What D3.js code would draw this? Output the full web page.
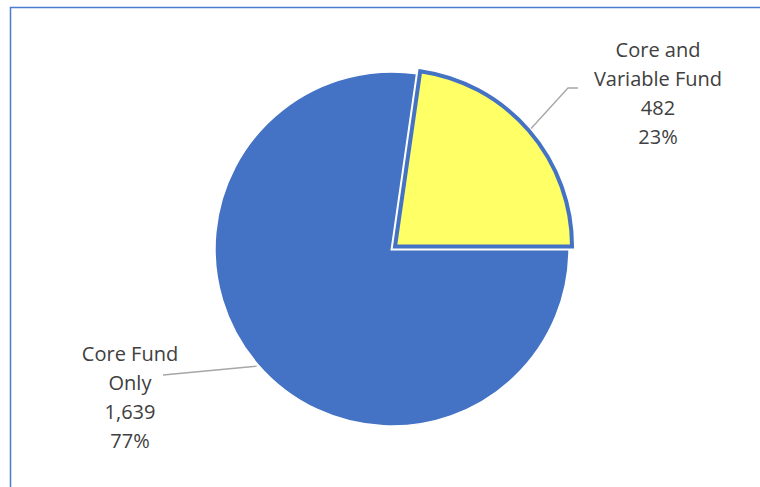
<!DOCTYPE html>
<html>
<head>
<meta charset="utf-8">
<script src="https://cdn.jsdelivr.net/npm/d3@7"></script>
<style>
  html, body { margin: 0; padding: 0; background: #fff; }
  svg { display: block; }
  text { font-family: "Open Sans", "Noto Sans", sans-serif; fill: #404040; }
</style>
</head>
<body>
<svg id="chart" width="760" height="487"></svg>
<script>
// ---- data ----
const categories = ["Core Fund Only", "Core and Variable Fund"];
const labelLines = [["Core Fund", "Only"], ["Core and", "Variable Fund"]];
const values = [1639, 482];
const colors = ["#4472C4", "#FFFF66"];

const svg = d3.select("#chart");
const W = 760, H = 487;

// chart border (left + top visible)
svg.append("path")
  .attr("d", "M10.5,487 L10.5,7.5 L760,7.5")
  .attr("fill", "none")
  .attr("stroke", "#4A7BD0")
  .attr("stroke-width", 1.5);

const cx = 392, cy = 249, R = 177;
const total = d3.sum(values);
const pie = d3.pie().sort(null).startAngle(Math.PI / 2).endAngle(Math.PI / 2 + 2 * Math.PI);
const arcs = pie(values);
const arc = d3.arc().innerRadius(0).outerRadius(R);
const explode = [0, 4];

const g = svg.append("g").attr("transform", `translate(${cx},${cy})`);

arcs.forEach((a, i) => {
  const mid = (a.startAngle + a.endAngle) / 2;
  const dx = explode[i] * Math.sin(mid), dy = -explode[i] * Math.cos(mid);
  const sg = g.append("g").attr("transform", `translate(${dx},${dy})`);
  if (i === 1) {
    sg.append("path").attr("d", arc(a)).attr("fill", "#fff")
      .attr("stroke", "#fff").attr("stroke-width", 8).attr("stroke-linejoin", "miter");
    sg.append("path").attr("d", arc(a)).attr("fill", colors[i])
      .attr("stroke", "#4472C4").attr("stroke-width", 4).attr("stroke-linejoin", "miter");
  } else {
    sg.append("path").attr("d", arc(a)).attr("fill", colors[i])
      .attr("stroke", "#fff").attr("stroke-width", 1.5);
  }
});

// labels
const fmtN = d3.format(",");
const fmtP = d3.format(".0%");
const labelPos = [
  { x: 130, y: 361, start: 179, elbow: [163, 375], end: [163, 375] },
  { x: 658, y: 57, start: 180, elbow: [568, 88], end: [578, 88] }
];
const lineH = 29;

arcs.forEach((a, i) => {
  const mid = (a.startAngle + a.endAngle) / 2;
  const p = labelPos[i];
  const r0 = p.start + explode[i];
  const sx = cx + r0 * Math.sin(mid), sy = cy - r0 * Math.cos(mid);
  svg.append("polyline")
    .attr("points", [[sx, sy], p.elbow, p.end].map(d => d.join(",")).join(" "))
    .attr("fill", "none")
    .attr("stroke", "#A6A6A6")
    .attr("stroke-width", 1.3);
  const lines = labelLines[i].concat([fmtN(values[i]), fmtP(values[i] / total)]);
  const t = svg.append("text")
    .attr("text-anchor", "middle")
    .attr("font-size", 20);
  lines.forEach((s, k) => {
    t.append("tspan").attr("x", p.x).attr("y", p.y + k * lineH).text(s);
  });
});
</script>
</body>
</html>
